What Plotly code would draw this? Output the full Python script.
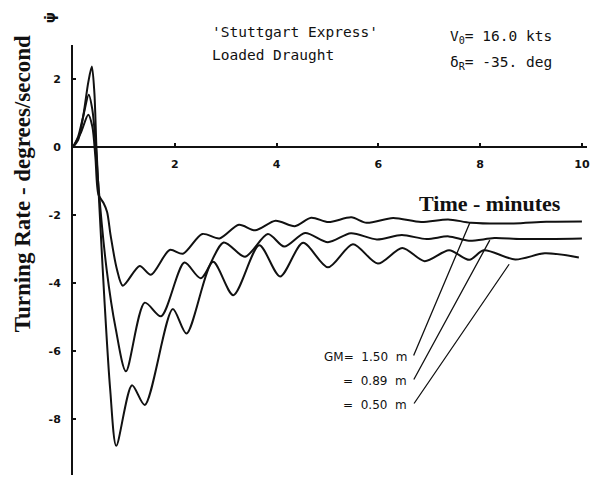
import plotly.graph_objects as go

# ---- data (time in minutes, turning rate in deg/s) ----
t_gm150 = [0, 0.15, 0.30, 0.38, 0.44, 0.50, 0.60, 0.67, 0.74, 0.86, 0.98, 1.31, 1.53,
           1.90, 2.16, 2.54, 2.88, 3.26, 3.58, 3.98, 4.36, 4.68, 5.02, 5.47, 5.77,
           6.29, 6.84, 7.37, 7.82, 8.66, 9.30, 10.0]
r_gm150 = [0, 0.40, 0.95, 0.60, -0.30, -1.40, -1.65, -1.91, -2.61, -3.58, -4.08, -3.50, -3.76,
           -3.03, -3.14, -2.56, -2.69, -2.29, -2.45, -2.17, -2.33, -2.08, -2.21, -2.07, -2.23,
           -2.09, -2.21, -2.13, -2.23, -2.25, -2.20, -2.19]

t_gm089 = [0, 0.10, 0.20, 0.31, 0.38, 0.45, 0.49, 0.66, 0.84, 1.04, 1.41, 1.73, 2.19,
           2.51, 2.96, 3.38, 3.83, 4.15, 4.56, 5.01, 5.46, 5.97, 6.46, 6.95, 7.38,
           7.78, 8.28, 8.81, 10.0]
r_gm089 = [0, 0.30, 0.90, 1.54, 1.10, 0.0, -0.95, -3.59, -5.35, -6.60, -4.58, -4.98, -3.40,
           -3.86, -2.81, -3.23, -2.56, -2.93, -2.53, -2.80, -2.54, -2.72, -2.59, -2.71, -2.63,
           -2.76, -2.68, -2.71, -2.69]

t_gm050 = [0, 0.10, 0.20, 0.30, 0.37, 0.42, 0.46, 0.52, 0.62, 0.73, 0.85, 1.16, 1.41,
           1.96, 2.23, 2.75, 3.15, 3.66, 4.07, 4.52, 5.01, 5.50, 5.99, 6.47, 6.91,
           7.39, 7.79, 8.07, 8.69, 9.27, 9.94]
r_gm050 = [0, 0.20, 0.90, 1.90, 2.37, 1.60, 0.0, -1.80, -4.56, -7.12, -8.79, -7.01, -7.59,
           -4.77, -5.49, -3.38, -4.36, -2.89, -3.81, -2.82, -3.54, -2.86, -3.43, -2.97, -3.36,
           -3.04, -3.32, -3.04, -3.31, -3.13, -3.25]

x_ticks = [2, 4, 6, 8, 10]
y_ticks = [-8, -6, -4, -2, 0, 2]
gm_labels = ["GM=  1.50  m", "=  0.89  m", "=  0.50  m"]

W, H = 590, 479
ML, MR, MT, MB = 73, 0, 45, 4
XR = [0, 10.1]
YR = [-9.65, 3.0]

def px2paper(px, py):
    return (px - ML) / (W - ML - MR), (H - MB - py) / (H - MT - MB)

def px2data(px, py):
    pw = W - ML - MR
    ph = H - MT - MB
    x = XR[0] + (px - ML) / pw * (XR[1] - XR[0])
    y = YR[1] - (py - MT) / ph * (YR[1] - YR[0])
    return x, y

fig = go.Figure()
line_style = dict(color="#111111", width=2, shape="spline", smoothing=0.8)
for t, r in [(t_gm150, r_gm150), (t_gm089, r_gm089), (t_gm050, r_gm050)]:
    fig.add_trace(go.Scatter(x=t, y=r, mode="lines", line=line_style,
                             showlegend=False, hoverinfo="skip"))

plot_font = "DejaVu Sans"
mono = "DejaVu Sans Mono"
serif = "Liberation Serif"
ann = []

def text_at(px, py, text, size=13, family=plot_font, xanchor="left", angle=0, weight="normal"):
    x, y = px2paper(px, py)
    ann.append(dict(x=x, y=y, xref="paper", yref="paper", text=text, showarrow=False,
                    xanchor=xanchor, yanchor="middle", textangle=angle,
                    font=dict(family=family, size=size, color="#111111", weight=weight)))

text_at(211, 32, "'Stuttgart Express'", size=14.5, family=mono)
text_at(211, 55, "Loaded Draught", size=14.5, family=mono)
text_at(450, 37, "V<sub>0</sub>= 16.0 kts", size=14.5, family=mono)
text_at(450, 63, "δ<sub>R</sub>= -35. deg", size=14.5, family=mono)
text_at(492, 204, "Time - minutes", size=22, family=serif, xanchor="center", weight="bold")
text_at(22, 184, "Turning Rate - degrees/second", size=23, family=serif,
        xanchor="center", angle=-90, weight="bold")
text_at(50, 18, "ψ̇", size=14, xanchor="center", angle=-90, weight="bold")

# GM labels with leader lines to the curves
label_rows = [357, 381, 405]
curve_pts = [(7.80, -2.22), (8.19, -2.74), (8.57, -3.45)]
for lab, py, (cx, cy) in zip(gm_labels, label_rows, curve_pts):
    text_at(411, py, lab, size=12, xanchor="right")
    tx, ty = px2data(415, py)
    ann.append(dict(x=cx, y=cy, xref="x", yref="y", ax=tx, ay=ty, axref="x", ayref="y",
                    showarrow=True, arrowhead=0, arrowwidth=1.3, arrowcolor="#111111", text=""))

zero_pos = (0 - YR[0]) / (YR[1] - YR[0])

fig.update_layout(
    width=W, height=H,
    margin=dict(l=ML, r=MR, t=MT, b=MB),
    paper_bgcolor="white", plot_bgcolor="white",
    annotations=ann,
    xaxis=dict(range=XR, anchor="free", position=zero_pos, showline=True,
               linecolor="#111111", linewidth=2, showgrid=False, zeroline=False,
               tickvals=x_ticks, ticktext=[str(v) for v in x_ticks],
               ticks="inside", ticklen=3, tickwidth=2, tickcolor="#111111",
               ticklabelstandoff=7, ticklabeloverflow="allow",
               tickfont=dict(family=plot_font, size=11, color="#111111", weight="bold")),
    yaxis=dict(range=YR, showline=True, linecolor="#111111", linewidth=2,
               showgrid=False, zeroline=False,
               tickvals=y_ticks, ticktext=[str(v) for v in y_ticks],
               ticks="inside", ticklen=3, tickwidth=2, tickcolor="#111111",
               ticklabelstandoff=8,
               tickfont=dict(family=plot_font, size=11, color="#111111", weight="bold")),
)

fig.write_html("out.html")
